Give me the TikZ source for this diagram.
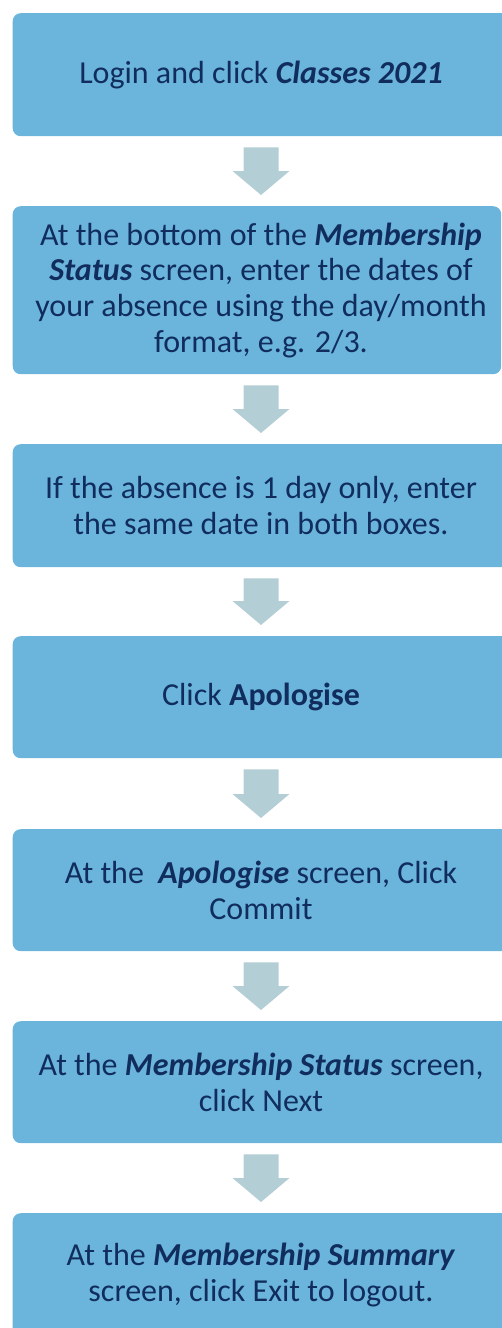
\documentclass[tikz,border=0pt]{standalone}
\usepackage{fontspec}
\setmainfont{Carlito}
\usetikzlibrary{calc}
\definecolor{boxblue}{HTML}{6BB5DC}
\definecolor{arrowgray}{HTML}{B4CED5}
\definecolor{navy}{HTML}{102D5E}
\begin{document}
\begin{tikzpicture}[x=1pt,y=-1pt,
  stepbox/.style={fill=boxblue, draw=none, rounded corners=8pt, inner sep=0pt, anchor=north west, minimum width=497pt},
  boxtext/.style={text=navy, font=\fontsize{32}{35.7}\selectfont, align=center, inner sep=0pt},
  flowarrow/.style={fill=arrowgray, draw=none}]
\useasboundingbox (0,0) rectangle (501,1328);
\coordinate (axis) at (261,0);
\node[stepbox, minimum height=123pt] (b1) at (12.5,13) {};
\node[stepbox, minimum height=168pt, minimum width=488.5pt] (b2) at (12.5,206) {};
\node[stepbox, minimum height=123pt] (b3) at (12.5,444) {};
\node[stepbox, minimum height=122pt] (b4) at (12.5,636) {};
\node[stepbox, minimum height=122pt] (b5) at (12.5,829) {};
\node[stepbox, minimum height=122pt] (b6) at (12.5,1021) {};
\node[stepbox, minimum height=123pt] (b7) at (12.5,1213) {};

\node[boxtext] (t1) at (b1.center -| axis) {Login and click \textbf{\textit{Classes 2021}}};
\node[boxtext] (t2) at (b2.center -| axis) {At the bottom of the \textbf{\textit{Membership}}\\ \textbf{\textit{Status}} screen, enter the dates of\\ your absence using the day/month\\ format, e.g. 2/3.};
\node[boxtext] (t3) at (b3.center -| axis) {If the absence is 1 day only, enter\\ the same date in both boxes.};
\node[boxtext] (t4) at (b4.center -| axis) {Click \textbf{Apologise}};
\node[boxtext] (t5) at (b5.center -| axis) {At the \ \textbf{\textit{Apologise}} screen, Click\\ Commit};
\node[boxtext] (t6) at (b6.center -| axis) {At the \textbf{\textit{Membership Status}} screen,\\ click Next};
\node[boxtext] (t7) at (b7.center -| axis) {At the \textbf{\textit{Membership Summary}}\\ screen, click Exit to logout.};

\foreach \a/\b in {b1/b2,b2/b3,b3/b4,b4/b5,b5/b6,b6/b7}{
  \coordinate (top) at ($(\a.south -| axis)+(0,11)$);
  \coordinate (tip) at ($(\b.north -| axis)+(0,-11)$);
  \fill[flowarrow] ($(top)+(-17.5,0)$) -- ($(top)+(17.5,0)$) -- ($(tip)+(17.5,-24)$) -- ($(tip)+(28.5,-24)$) -- (tip) -- ($(tip)+(-28.5,-24)$) -- ($(tip)+(-17.5,-24)$) -- cycle;
}
\end{tikzpicture}
\end{document}
